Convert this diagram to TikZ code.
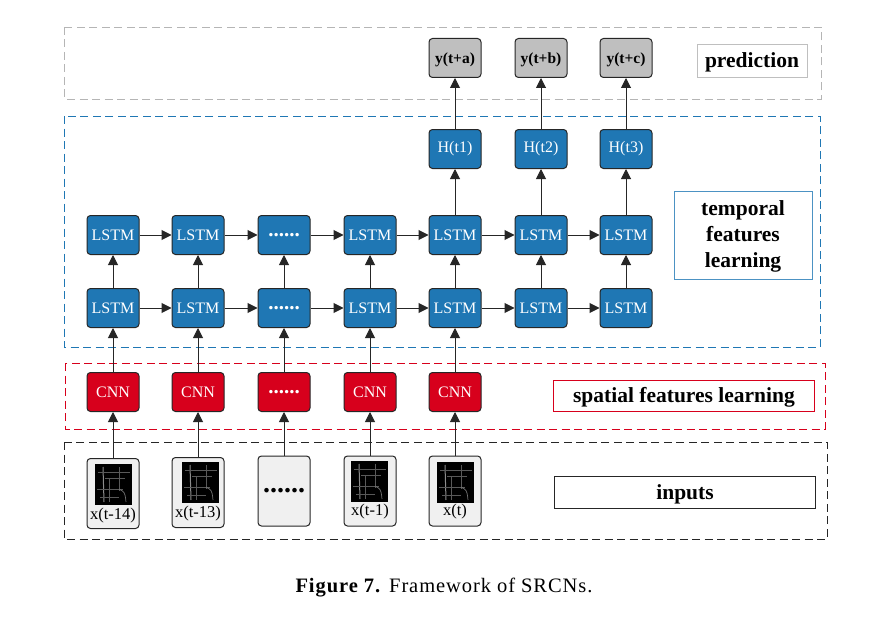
\documentclass[tikz,border=0pt]{standalone}
\usepackage{fontspec}
\setmainfont{Liberation Serif}
\newfontfamily\capfont[LetterSpace=4.5]{Liberation Serif}
\usetikzlibrary{arrows.meta}
\definecolor{lstmblue}{HTML}{1F77B4}
\definecolor{cnnred}{HTML}{D7001C}
\definecolor{predgray}{HTML}{BFBFBF}
\definecolor{inputfill}{HTML}{F0F0F0}
\definecolor{edgedark}{HTML}{262626}
\tikzset{
    cell/.style={draw=edgedark,line width=1pt,rounded corners=3.5pt,minimum width=52pt,minimum height=39pt,inner sep=0pt,font=\fontsize{16}{16}\selectfont},
    lstmcell/.style={cell,fill=lstmblue,text=white},
    cnncell/.style={cell,fill=cnnred,text=white},
    predcell/.style={cell,fill=predgray,text height=14pt,text depth=2pt,font=\fontsize{15.5}{15.5}\selectfont\bfseries},
    inputcell/.style={cell,fill=inputfill,minimum height=70pt},
    group/.style={line width=0.95pt,dash pattern=on 8pt off 4.5pt},
    tag/.style={draw,line width=0.9pt,inner sep=0pt,align=center,font=\fontsize{21.5}{26}\selectfont\bfseries},
    linetag/.style={tag,text height=17pt,text depth=3pt},
    flow/.style={-{Triangle[length=10pt,width=10pt]},line width=1pt,draw=edgedark},
    inputlab/.style={font=\fontsize{16.5}{16.5}\selectfont,inner sep=0pt},
}
% one road map thumbnail, #1 = left, #2 = top
\newcommand\RoadMap[2]{%
    \begin{scope}[shift={(#1,#2)}]
        \fill[black] (0,0) rectangle (37,41);
        \draw[white!55!black,line width=1pt] (8,3) -- (9,38);
        \draw[white!35!black,line width=0.6pt] (3,8) -- (35,8) (24,3) -- (24,27) (2,25) -- (28,25) (14,14) -- (14,38) (10,14) -- (30,14) (5,33) -- (24,33);
        \draw[white!45!black,line width=0.7pt] (24,25) .. controls (29,28) and (30,27) .. (31,38);
    \end{scope}
}
\begin{document}
\begin{tikzpicture}[x=1pt,y=-1pt]
    \useasboundingbox (0,0) rectangle (895,626);
    % groups
    \draw[group,color=predgray!95!black] (64,27) rectangle (821,99);
    \draw[group,color=lstmblue] (64,116) rectangle (820,347);
    \draw[group,color=cnnred] (65,363) rectangle (825,429);
    \draw[group,color=edgedark] (64,442) rectangle (827,539);
    % tags
    \node[linetag,draw=predgray,minimum width=110pt,minimum height=33pt] (TagPred) at (752,60.5) {prediction};
    \node[tag,draw=lstmblue!80,minimum width=138pt,minimum height=88pt] (TagTemporal) at (743,235) {\rule{0pt}{18.6pt}temporal\\features\\learning};
    \node[linetag,draw=cnnred,minimum width=261pt,minimum height=31pt,text height=16pt] (TagSpatial) at (684,395.5) {spatial features learning};
    \node[linetag,draw=edgedark,minimum width=261pt,minimum height=32pt] (TagInputs) at (685,492) {inputs};
    % inputs
    \node[inputcell] (In1) at (113,493.5) {};
    \node[inputcell] (In2) at (198,492.5) {};
    \node[inputcell] (In3) at (284,491) {\bfseries\fontsize{28}{28}\selectfont ......};
    \node[inputcell] (In4) at (370,491) {};
    \node[inputcell] (In5) at (455,491) {};
    \RoadMap{95}{464}
    \RoadMap{182}{462}
    \RoadMap{351}{461}
    \RoadMap{437}{462}
    \node[inputlab] (Lab1) at (113,516) {x(t-14)};
    \node[inputlab] (Lab2) at (198,514) {x(t-13)};
    \node[inputlab] (Lab4) at (370,512) {x(t-1)};
    \node[inputlab] (Lab5) at (455,512) {x(t)};
    % cnn and the two lstm rows
    \foreach \n/\x/\t in {1/113/CNN,2/198/CNN,3/284/{\bfseries\fontsize{21}{21}\selectfont ......},4/370/CNN,5/455/CNN}
        \node[cnncell] (Cnn\n) at (\x,392) {\t};
    \foreach \n/\x/\t in {1/113/LSTM,2/198/LSTM,3/284/{\bfseries\fontsize{21}{21}\selectfont ......},4/370/LSTM,5/455/LSTM,6/541/LSTM,7/626/LSTM} {
        \node[lstmcell] (Low\n) at (\x,308) {\t};
        \node[lstmcell] (Up\n) at (\x,235) {\t};
    }
    \foreach \n/\x/\t/\y in {5/455/1/a,6/541/2/b,7/626/3/c} {
        \node[lstmcell] (H\n) at (\x,149) {H(t\t)};
        \node[predcell] (Out\n) at (\x,58) {y(t+\y)};
    }
    % connectors
    \foreach \n in {1,...,5} {
        \draw[flow] (In\n) -- (Cnn\n);
        \draw[flow] (Cnn\n) -- (Low\n);
    }
    \foreach \n in {1,...,7}
        \draw[flow] (Low\n) -- (Up\n);
    \foreach \a/\b in {1/2,2/3,3/4,4/5,5/6,6/7} {
        \draw[flow] (Low\a) -- (Low\b);
        \draw[flow] (Up\a) -- (Up\b);
    }
    \foreach \n in {5,6,7} {
        \draw[flow] (Up\n) -- (H\n);
        \draw[flow] (H\n) -- (Out\n);
    }
    % caption
    \node[font=\fontsize{20.5}{20.5}\selectfont\capfont,inner sep=0pt] (Caption) at (444,588) {\textbf{Figure 7.} Framework of SRCNs.};
\end{tikzpicture}
\end{document}
